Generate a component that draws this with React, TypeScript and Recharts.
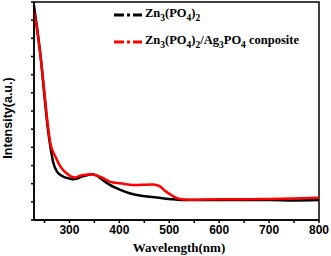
import { LineChart, Line, XAxis, YAxis, ReferenceArea } from "recharts";

type Pt = { x: number; y: number };

// Zn3(PO4)2 (black)
const znWave = [229, 236, 243, 250, 256, 262, 268, 275, 288, 300, 308, 315, 322, 335, 345, 355, 362, 372, 382, 392, 402, 422, 448, 475, 508, 530, 600, 650, 700, 750, 800];
const znVals = [5.9, 5.2, 4.4, 3.4, 2.6, 2.0, 1.56, 1.33, 1.19, 1.14, 1.12, 1.14, 1.18, 1.23, 1.26, 1.22, 1.15, 1.05, 0.96, 0.89, 0.83, 0.73, 0.66, 0.62, 0.57, 0.55, 0.55, 0.55, 0.55, 0.54, 0.55];

// Zn3(PO4)2/Ag3PO4 composite (red)
const agWave = [229, 236, 243, 250, 256, 262, 272, 282, 295, 303, 312, 322, 328, 345, 355, 365, 375, 382, 402, 428, 445, 468, 475, 482, 490, 498, 507, 515, 525, 540, 600, 650, 700, 750, 800];
const agVals = [5.75, 5.15, 4.4, 3.5, 2.7, 2.1, 1.74, 1.47, 1.28, 1.2, 1.17, 1.22, 1.24, 1.26, 1.22, 1.17, 1.1, 1.05, 1.01, 0.96, 0.97, 0.98, 0.96, 0.92, 0.82, 0.74, 0.66, 0.6, 0.57, 0.56, 0.57, 0.57, 0.58, 0.59, 0.61];

const xTicks = [250, 300, 350, 400, 450, 500, 550, 600, 650, 700, 750, 800];
const yTicks = [0, 0.5, 1, 1.5, 2, 2.5, 3, 3.5, 4, 4.5, 5, 5.5, 6];

const zn: Pt[] = znWave.map((x, i) => ({ x, y: znVals[i] }));
const ag: Pt[] = agWave.map((x, i) => ({ x, y: agVals[i] }));

const serif = "'Liberation Serif', 'Times New Roman', serif";
const sans = "'Liberation Sans', Arial, sans-serif";

function DashDot({ color }: { color: string }) {
    return (
        <svg width={28} height={6} style={{ marginRight: 3 }}>
            <line x1={0} y1={3} x2={28} y2={3} stroke={color} strokeWidth={3} strokeDasharray="10 3 3 3" />
        </svg>
    );
}

const sub = { fontSize: 9.5 };

function LegendBox() {
    return (
        <div style={{ position: "absolute", left: 114, top: 5, fontFamily: serif, fontWeight: "bold", fontSize: 12.5, color: "#000", lineHeight: "14px" }}>
            <div style={{ display: "flex", alignItems: "center", height: 20 }}>
                <DashDot color="#000" />
                <span>Zn<sub style={sub}>3</sub>(PO<sub style={sub}>4</sub>)<sub style={sub}>2</sub></span>
            </div>
            <div style={{ display: "flex", alignItems: "center", height: 20, marginTop: 7, whiteSpace: "nowrap" }}>
                <DashDot color="#ff0000" />
                <span>
                    Zn<sub style={sub}>3</sub>(PO<sub style={sub}>4</sub>)<sub style={sub}>2</sub>/Ag<sub style={sub}>3</sub>PO<sub style={sub}>4</sub> conposite
                </span>
            </div>
        </div>
    );
}

export default function App() {
    return (
        <div style={{ position: "absolute", left: 0, top: 0, width: 331, height: 256, background: "#fff" }}>
            <LineChart width={331} height={256} margin={{ top: 2, right: 12, bottom: 0, left: 0 }}>
                <XAxis
                    type="number"
                    dataKey="x"
                    domain={[229, 800]}
                    ticks={xTicks}
                    height={36}
                    stroke="#000"
                    strokeWidth={1.5}
                    tickSize={3}
                    tickFormatter={(v: number) => (v % 100 === 0 ? String(v) : "")}
                    tick={{ fill: "#000", fontSize: 12, fontWeight: "bold", fontFamily: sans }}
                    label={{
                        content: () => (
                            <text x={179} y={252} textAnchor="middle" fontFamily={serif} fontWeight="bold" fontSize={13} fill="#000">
                                Wavelength(nm)
                            </text>
                        ),
                    }}
                />
                <YAxis
                    type="number"
                    domain={[0, 6]}
                    ticks={yTicks}
                    width={34}
                    stroke="#000"
                    strokeWidth={1.5}
                    tickSize={3}
                    tickFormatter={() => ""}
                    label={{
                        content: () => (
                            <text x={12} y={118} transform="rotate(-90, 12, 118)" textAnchor="middle" fontFamily={sans} fontWeight="bold" fontSize={12.5} fill="#000">
                                Intensity(a.u.)
                            </text>
                        ),
                    }}
                />
                {/* plot frame drawn as an unfilled area over the whole domain */}
                <ReferenceArea x1={229} x2={800} y1={0} y2={6} fill="none" fillOpacity={0} stroke="#000" strokeWidth={1.5} ifOverflow="visible" />
                <Line data={zn} dataKey="y" type="monotone" stroke="#000" strokeWidth={2.5} dot={false} isAnimationActive={false} />
                <Line data={ag} dataKey="y" type="monotone" stroke="#ff0000" strokeWidth={2.5} dot={false} isAnimationActive={false} />
            </LineChart>
            <LegendBox />
        </div>
    );
}
